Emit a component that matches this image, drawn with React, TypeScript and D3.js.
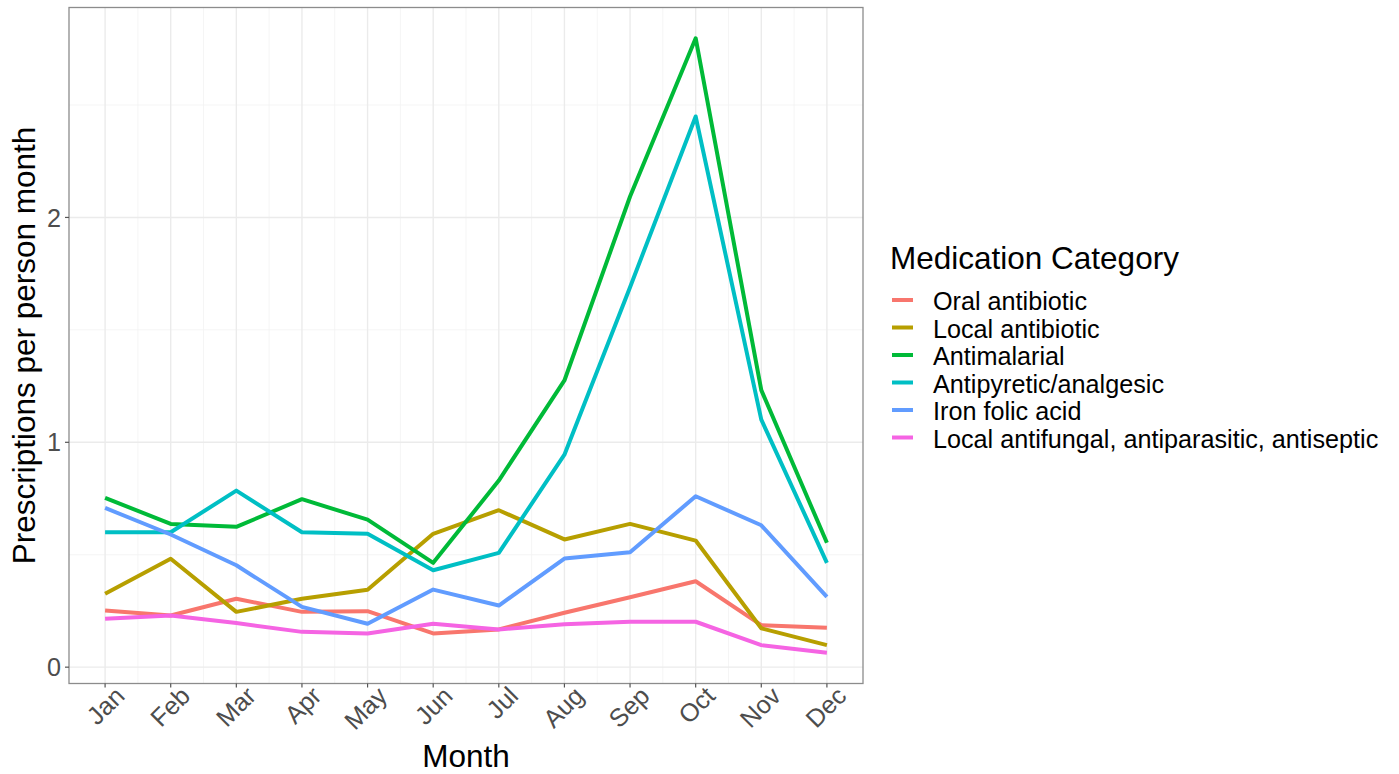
import React from 'react';
import * as d3 from 'd3';

const months = ['Jan', 'Feb', 'Mar', 'Apr', 'May', 'Jun', 'Jul', 'Aug', 'Sep', 'Oct', 'Nov', 'Dec'];
const categories = [
  'Oral antibiotic',
  'Local antibiotic',
  'Antimalarial',
  'Antipyretic/analgesic',
  'Iron folic acid',
  'Local antifungal, antiparasitic, antiseptic',
];
const oralAntibiotic = [0.252, 0.23, 0.304, 0.246, 0.249, 0.15, 0.168, 0.242, 0.311, 0.382, 0.187, 0.175];
const localAntibiotic = [0.326, 0.482, 0.246, 0.304, 0.344, 0.593, 0.698, 0.568, 0.637, 0.563, 0.173, 0.098];
const antimalarial = [0.753, 0.637, 0.624, 0.747, 0.656, 0.464, 0.83, 1.275, 2.093, 2.797, 1.232, 0.553];
const antipyretic = [0.6, 0.6, 0.785, 0.6, 0.593, 0.431, 0.508, 0.945, 1.69, 2.449, 1.101, 0.464];
const ironFolic = [0.708, 0.59, 0.453, 0.268, 0.193, 0.345, 0.274, 0.483, 0.511, 0.76, 0.631, 0.313];
const localAntifungal = [0.215, 0.23, 0.196, 0.157, 0.15, 0.193, 0.168, 0.191, 0.202, 0.202, 0.098, 0.064];
const seriesValues = [oralAntibiotic, localAntibiotic, antimalarial, antipyretic, ironFolic, localAntifungal];
const colors = ['#F8766D', '#B79F00', '#00BA38', '#00BFC4', '#619CFF', '#F564E3'];
const yTicks = [0, 1, 2];
const yMinorTicks = [0.5, 1.5, 2.5];

const FONT = '"Liberation Sans", Arial, Helvetica, sans-serif';

export default function App() {
  const W = 1399;
  const H = 774;
  const pLeft = 69;
  const pRight = 863;
  const pTop = 7.5;
  const pBottom = 683.5;

  const all = seriesValues.flat();
  const vMin = d3.min(all) as number;
  const vMax = d3.max(all) as number;
  const pad = (vMax - vMin) * 0.05;

  const x = d3.scaleLinear().domain([1 - 0.55, 12 + 0.55]).range([pLeft, pRight]);
  const y = d3.scaleLinear().domain([vMin - pad, vMax + pad]).range([pBottom, pTop]);

  const line = d3
    .line<number>()
    .x((_, i) => x(i + 1))
    .y((d) => y(d));

  const xMinor = d3.range(1.5, 12, 1);
  const legendX = 890;
  const legendRowY = (i: number) => 300 + i * 27.5;
  const titleSize = 31.5;
  const textSize = 25.2;

  return (
    <svg
      width={W}
      height={H}
      style={{ position: 'absolute', left: 0, top: 0, background: '#fff' }}
      fontFamily={FONT}
    >
      <rect x={0} y={0} width={W} height={H} fill="#fff" />
      {/* minor grid */}
      {yMinorTicks.map((t) => (
        <line key={'ym' + t} x1={pLeft} x2={pRight} y1={y(t)} y2={y(t)} stroke="#F2F2F2" strokeWidth={0.8} />
      ))}
      {xMinor.map((t) => (
        <line key={'xm' + t} x1={x(t)} x2={x(t)} y1={pTop} y2={pBottom} stroke="#F2F2F2" strokeWidth={0.8} />
      ))}
      {/* major grid */}
      {yTicks.map((t) => (
        <line key={'yg' + t} x1={pLeft} x2={pRight} y1={y(t)} y2={y(t)} stroke="#EBEBEB" strokeWidth={1.4} />
      ))}
      {months.map((m, i) => (
        <line key={'xg' + m} x1={x(i + 1)} x2={x(i + 1)} y1={pTop} y2={pBottom} stroke="#EBEBEB" strokeWidth={1.4} />
      ))}
      {/* lines */}
      {seriesValues.map((vals, k) => (
        <path
          key={categories[k]}
          d={line(vals) || ''}
          fill="none"
          stroke={colors[k]}
          strokeWidth={4}
          strokeLinejoin="round"
        />
      ))}
      {/* panel border */}
      <rect
        x={pLeft}
        y={pTop}
        width={pRight - pLeft}
        height={pBottom - pTop}
        fill="none"
        stroke="#8C8C8C"
        strokeWidth={1.3}
      />
      {/* y axis */}
      {yTicks.map((t) => (
        <g key={'yt' + t}>
          <line x1={pLeft - 4} x2={pLeft} y1={y(t)} y2={y(t)} stroke="#555" strokeWidth={1.2} />
          <text
            x={pLeft - 8}
            y={y(t)}
            dy="0.36em"
            textAnchor="end"
            fontSize={textSize}
            fill="#4D4D4D"
          >
            {t}
          </text>
        </g>
      ))}
      {/* x axis */}
      {months.map((m, i) => (
        <g key={'xt' + m}>
          <line x1={x(i + 1)} x2={x(i + 1)} y1={pBottom} y2={pBottom + 4} stroke="#555" strokeWidth={1.2} />
          <text
            transform={`translate(${x(i + 1) + 21},${pBottom + 14}) rotate(-45)`}
            textAnchor="end"
            fontSize={textSize}
            fill="#4D4D4D"
          >
            {m}
          </text>
        </g>
      ))}
      {/* axis titles */}
      <text x={(pLeft + pRight) / 2} y={767} textAnchor="middle" fontSize={titleSize} fill="#000">
        Month
      </text>
      <text
        transform={`translate(35,${(pTop + pBottom) / 2}) rotate(-90)`}
        textAnchor="middle"
        fontSize={titleSize}
        fill="#000"
      >
        Prescriptions per person month
      </text>
      {/* legend */}
      <text x={legendX} y={269} fontSize={titleSize} fill="#000">
        Medication Category
      </text>
      {categories.map((c, i) => (
        <g key={'lg' + c}>
          <line
            x1={legendX + 2}
            x2={legendX + 23}
            y1={legendRowY(i)}
            y2={legendRowY(i)}
            stroke={colors[i]}
            strokeWidth={4}
          />
          <text x={933} y={legendRowY(i) + 10} fontSize={textSize} fill="#000">
            {c}
          </text>
        </g>
      ))}
    </svg>
  );
}
